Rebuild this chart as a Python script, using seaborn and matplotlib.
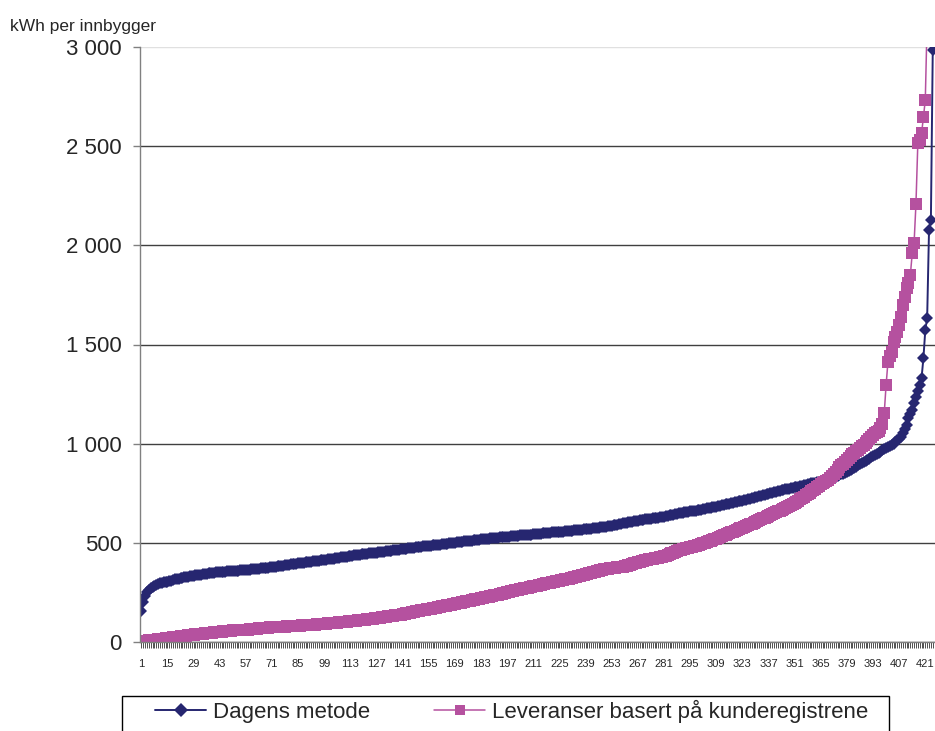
import numpy as np
import matplotlib
matplotlib.use('Agg')
import matplotlib.pyplot as plt
import matplotlib.ticker as mticker
from matplotlib.lines import Line2D
from matplotlib.patches import Rectangle
import seaborn as sns

# kWh per innbygger, kommunene sortert stigende (les av figuren)
dagens = [
    155, 200, 232, 250, 262, 270, 277, 283, 288, 292,
    295, 298, 301, 303, 305, 308, 310, 313, 316, 318,
    320, 322, 324, 326, 328, 330, 331, 333, 334, 336,
    337, 339, 340, 342, 343, 345, 346, 347, 349, 350,
    351, 352, 353, 354, 355, 355, 356, 357, 357, 358,
    359, 360, 360, 361, 362, 363, 364, 364, 365, 366,
    367, 368, 369, 370, 371, 372, 373, 374, 375, 377,
    378, 379, 380, 381, 383, 384, 385, 386, 388, 390,
    391, 392, 393, 395, 396, 397, 399, 400, 401, 403,
    404, 405, 406, 408, 409, 410, 411, 412, 414, 415,
    417, 418, 420, 421, 422, 424, 425, 427, 428, 430,
    431, 433, 434, 436, 437, 438, 440, 441, 442, 443,
    444, 446, 447, 448, 449, 450, 451, 452, 454, 455,
    456, 457, 459, 460, 461, 462, 464, 465, 466, 468,
    469, 470, 471, 472, 474, 475, 476, 477, 479, 480,
    481, 482, 483, 484, 485, 486, 487, 488, 489, 490,
    491, 492, 494, 495, 496, 497, 498, 499, 501, 502,
    503, 504, 505, 507, 508, 509, 510, 511, 513, 514,
    515, 516, 517, 518, 519, 520, 521, 522, 523, 524,
    525, 526, 527, 528, 529, 529, 530, 531, 532, 533,
    534, 535, 536, 537, 538, 538, 539, 540, 541, 542,
    543, 544, 545, 546, 547, 548, 549, 550, 551, 552,
    553, 553, 554, 555, 556, 557, 557, 558, 559, 560,
    561, 562, 563, 564, 565, 566, 567, 568, 569, 570,
    571, 572, 573, 574, 575, 577, 578, 579, 580, 582,
    583, 585, 587, 588, 590, 592, 594, 596, 598, 600,
    602, 604, 605, 607, 608, 610, 611, 613, 615, 617,
    618, 619, 620, 622, 623, 624, 625, 627, 628, 630,
    632, 634, 636, 638, 640, 642, 644, 646, 648, 650,
    652, 653, 655, 656, 658, 659, 661, 662, 664, 666,
    668, 670, 672, 674, 676, 678, 679, 681, 683, 685,
    687, 689, 691, 694, 696, 698, 700, 702, 705, 707,
    709, 711, 713, 716, 718, 720, 722, 725, 727, 730,
    732, 735, 737, 740, 742, 745, 747, 750, 752, 755,
    757, 760, 762, 764, 767, 769, 771, 773, 776, 778,
    780, 782, 784, 786, 789, 791, 793, 795, 798, 800,
    802, 804, 806, 808, 811, 813, 815, 818, 820, 823,
    826, 830, 834, 838, 842, 845, 849, 853, 857, 862,
    867, 872, 878, 884, 890, 896, 902, 908, 914, 920,
    925, 931, 937, 942, 948, 954, 960, 966, 972, 978,
    984, 990, 995, 1000, 1008, 1018, 1026, 1035, 1054, 1075,
    1094, 1128, 1150, 1170, 1205, 1237, 1265, 1296, 1331, 1432,
    1573, 1634, 2078, 2128, 2985,
]

leveranser = [
    3, 4, 5, 6, 8, 9, 10, 11, 12, 14,
    15, 16, 17, 18, 20, 21, 22, 23, 24, 26,
    27, 28, 29, 30, 32, 33, 34, 35, 36, 38,
    39, 40, 41, 42, 43, 44, 45, 46, 47, 48,
    49, 50, 51, 52, 53, 54, 55, 56, 57, 58,
    59, 59, 60, 61, 61, 62, 63, 63, 64, 65,
    66, 67, 68, 69, 70, 70, 71, 72, 73, 74,
    75, 75, 76, 76, 77, 77, 78, 78, 79, 80,
    80, 81, 81, 82, 83, 83, 84, 84, 85, 86,
    86, 87, 88, 88, 89, 90, 90, 91, 92, 93,
    94, 95, 96, 97, 97, 98, 99, 100, 101, 102,
    103, 104, 105, 106, 107, 108, 109, 110, 111, 112,
    113, 114, 115, 117, 118, 119, 120, 122, 123, 125,
    126, 127, 129, 130, 131, 132, 134, 135, 137, 138,
    140, 142, 144, 146, 148, 150, 152, 154, 156, 158,
    160, 161, 163, 165, 166, 168, 170, 171, 173, 175,
    177, 179, 181, 183, 185, 187, 189, 191, 193, 195,
    197, 199, 201, 203, 205, 207, 209, 211, 213, 215,
    217, 219, 221, 223, 225, 227, 229, 231, 233, 235,
    237, 239, 242, 244, 246, 248, 251, 253, 255, 258,
    260, 262, 264, 266, 268, 270, 272, 274, 276, 278,
    280, 282, 284, 287, 289, 291, 293, 295, 298, 300,
    302, 304, 306, 308, 310, 312, 314, 316, 318, 320,
    322, 325, 327, 330, 332, 335, 337, 340, 342, 345,
    347, 349, 352, 354, 356, 359, 361, 363, 366, 368,
    369, 371, 372, 374, 375, 376, 377, 379, 380, 382,
    384, 387, 390, 393, 396, 399, 401, 404, 407, 410,
    412, 414, 416, 418, 420, 422, 424, 426, 428, 430,
    433, 436, 440, 443, 447, 451, 455, 458, 462, 465,
    467, 470, 472, 475, 477, 480, 482, 485, 487, 490,
    493, 497, 500, 504, 507, 511, 514, 518, 521, 525,
    529, 533, 537, 541, 545, 549, 553, 557, 561, 565,
    569, 573, 577, 581, 585, 589, 593, 597, 601, 605,
    609, 614, 618, 623, 627, 632, 636, 641, 645, 650,
    654, 659, 663, 668, 672, 677, 681, 686, 690, 695,
    701, 707, 713, 719, 726, 733, 740, 746, 753, 760,
    766, 773, 780, 787, 795, 801, 807, 813, 819, 825,
    836, 847, 858, 869, 880, 890, 900, 910, 920, 930,
    938, 946, 954, 962, 970, 978, 986, 994, 1002, 1012,
    1022, 1033, 1045, 1052, 1058, 1065, 1077, 1100, 1153, 1296,
    1413, 1440, 1464, 1514, 1540, 1565, 1600, 1640, 1699, 1741,
    1784, 1810, 1851, 1960, 2013, 2209, 2515, 2530, 2565, 2646,
    2733, 3150, 3500, 4000, 4800,
]

kommune_nr = np.arange(1, len(dagens) + 1)
series_names = ['Dagens metode', 'Leveranser basert på kunderegistrene']
y_ticks = [0, 500, 1000, 1500, 2000, 2500, 3000]
x_labels = list(range(1, 422, 14))

navy = '#262670'
magenta = '#B5519F'

sns.set_style('white')
plt.rcParams['font.family'] = ['Liberation Sans', 'DejaVu Sans']

fig = plt.figure(figsize=(9.35, 7.31), dpi=100)
ax = fig.add_axes([140 / 935, 1 - 642 / 731, 1 - 140 / 935, (642 - 47) / 731])

sns.lineplot(x=kommune_nr, y=dagens, ax=ax, color=navy, lw=1.4,
             marker='D', markersize=6.2, markeredgewidth=0, sort=False)
sns.lineplot(x=kommune_nr, y=leveranser, ax=ax, color=magenta, lw=1.1,
             marker='s', markersize=8, markeredgewidth=0, sort=False)

ax.set_xlim(0.3, 426.2)
ax.set_ylim(0, 3000)
ax.set_yticks(y_ticks)
ax.yaxis.set_major_formatter(
    mticker.FuncFormatter(lambda v, p: f'{int(v):,}'.replace(',', ' ')))
ax.set_xticks(x_labels)
ax.set_xticks(kommune_nr, minor=True)
ax.tick_params(axis='y', which='major', direction='out', length=5, width=1,
               color='#808080', labelsize=16, pad=8, left=True)
ax.tick_params(axis='x', which='both', direction='out', length=4, width=0.6,
               color='#333333', bottom=True, labelsize=8, pad=8)

ax.grid(axis='y', color='#404040', lw=1)
ax.grid(axis='x', visible=False)
ax.get_ygridlines()[-1].set_color('#e0e0e0')
for s in ['top', 'right']:
    ax.spines[s].set_visible(False)
for s in ['left', 'bottom']:
    ax.spines[s].set_color('#808080')
    ax.spines[s].set_linewidth(1)
ax.set_xlabel('')
ax.set_ylabel('')

fig.text(10 / 935, 1 - 26 / 731, 'kWh per innbygger', fontsize=12.5,
         va='center', ha='left')

handles = [
    Line2D([], [], color=navy, lw=1.4, marker='D', markersize=7.5, markeredgewidth=0),
    Line2D([], [], color=magenta, lw=1.1, marker='s', markersize=7.5, markeredgewidth=0),
]
fig.legend(handles, series_names, loc='upper left',
           bbox_to_anchor=(155 / 935, 1 - 700 / 731), frameon=False, ncol=2,
           fontsize=16, handlelength=2.3, handletextpad=0.3,
           columnspacing=2.9, borderpad=0, borderaxespad=0)
fig.add_artist(Rectangle((122 / 935, -0.05), (889 - 122) / 935,
                         1 - 696 / 731 + 0.05, transform=fig.transFigure,
                         fill=False, edgecolor='black', lw=1))

fig.savefig('out.png', dpi=100)
